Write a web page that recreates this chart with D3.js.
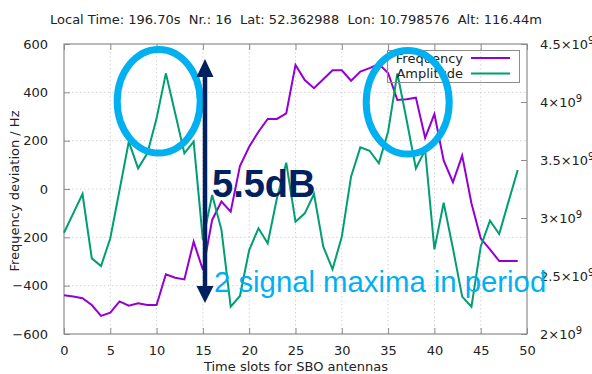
<!DOCTYPE html>
<html>
<head>
<meta charset="utf-8">
<script src="https://cdn.jsdelivr.net/npm/d3@7"></script>
<style>
  html, body { margin: 0; padding: 0; background: #fff; }
  svg { display: block; }
  text { font-family: "DejaVu Sans", sans-serif; fill: #222; }
</style>
</head>
<body>
<svg id="chart" width="592" height="374"></svg>
<script>
// Time slot index (0..49)
const slots = d3.range(0, 50);

// Frequency deviation per slot, Hz (left axis)
const frequency = [
  -440, -445, -452, -480, -525, -512, -465, -483, -473, -480,
  -480, -353, -367, -374, -218, -335, -128,  -52,  -94,   95,
   175,  237,  290,  290,  313,  513,  451,  417,  454,  491,
   491,  448,  486,  500,  517,  480,  368,  371,  378,  212,
   310,  118,   28,  138,  -59, -204, -250, -298, -298, -298
];

// Amplitude per slot, in units of 1e9 (right axis)
const amplitude = [
  2.873, 3.040, 3.207, 2.652, 2.586, 2.825, 3.241, 3.658, 3.428, 3.557,
  3.859, 4.247, 3.905, 3.558, 3.658, 2.810, 3.198, 2.900, 2.235, 2.328,
  2.724, 2.911, 2.782, 3.172, 3.477, 2.968, 3.040, 3.207, 2.753, 2.558,
  2.839, 3.356, 3.609, 3.580, 3.472, 3.744, 4.247, 3.845, 3.428, 3.586,
  2.730, 3.132, 2.739, 2.322, 2.235, 2.753, 2.977, 2.862, 3.141, 3.414
];

// Tick values
const xTicks = [0, 5, 10, 15, 20, 25, 30, 35, 40, 45, 50];
const leftTicks = [-600, -400, -200, 0, 200, 400, 600];
const rightTicks = [2, 2.5, 3, 3.5, 4, 4.5];

const titleText = "Local Time: 196.70s  Nr.: 16  Lat: 52.362988  Lon: 10.798576  Alt: 116.44m";
const seriesNames = ["Frequency", "Amplitude"];
const seriesColors = ["#9400d3", "#009e73"];

const svg = d3.select("#chart");
const plot = { left: 64, right: 527, top: 44, bottom: 334 };

const x = d3.scaleLinear().domain([0, 50]).range([plot.left, plot.right]);
const yL = d3.scaleLinear().domain([-600, 600]).range([plot.bottom, plot.top]);
const yR = d3.scaleLinear().domain([2, 4.5]).range([plot.bottom, plot.top]);

// Title
svg.append("text")
  .attr("x", 296).attr("y", 24)
  .attr("text-anchor", "middle")
  .style("font-size", "13px")
  .text(titleText.replace(/ /g, "\u00a0"));

// Grid (dotted) at major ticks
const grid = svg.append("g");
grid.selectAll("line.gx").data(xTicks.slice(1, -1)).join("line")
  .attr("x1", d => x(d)).attr("x2", d => x(d))
  .attr("y1", plot.top).attr("y2", plot.bottom)
  .attr("stroke", "#d4d4d4").attr("stroke-width", 1)
  .attr("stroke-dasharray", "1.5,2.5");
grid.selectAll("line.gy").data(leftTicks.slice(1, -1)).join("line")
  .attr("x1", plot.left).attr("x2", plot.right)
  .attr("y1", d => yL(d)).attr("y2", d => yL(d))
  .attr("stroke", "#d4d4d4").attr("stroke-width", 1)
  .attr("stroke-dasharray", "1.5,2.5");

// Axes with inward ticks
function styleAxis(g) {
  g.select(".domain").remove();
  g.selectAll(".tick line").attr("stroke", "#8c8c8c");
  g.selectAll(".tick text").style("font-size", "13px").attr("fill", "#222")
    .style("font-family", "DejaVu Sans, sans-serif");
}

svg.append("g")
  .attr("transform", `translate(0,${plot.bottom})`)
  .call(d3.axisBottom(x).tickValues(xTicks).tickSizeInner(-6).tickSizeOuter(0).tickPadding(12))
  .call(styleAxis);

svg.append("g")
  .attr("transform", `translate(0,${plot.top})`)
  .call(d3.axisTop(x).tickValues(xTicks).tickSizeInner(-6).tickSizeOuter(0).tickFormat(""))
  .call(styleAxis);

svg.append("g")
  .attr("transform", `translate(${plot.left},0)`)
  .call(d3.axisLeft(yL).tickValues(leftTicks).tickSizeInner(-6).tickSizeOuter(0).tickPadding(16))
  .call(styleAxis);

const rAxis = svg.append("g")
  .attr("transform", `translate(${plot.right},0)`)
  .call(d3.axisRight(yR).tickValues(rightTicks).tickSizeInner(-6).tickSizeOuter(0).tickPadding(13).tickFormat(""))
  .call(styleAxis);

// Right tick labels as mantissa x 10^9
rAxis.selectAll(".tick text").each(function(d) {
  const t = d3.select(this);
  t.text(null);
  t.append("tspan").text(d3.format("~g")(d) + "\u00d710");
  t.append("tspan").attr("dy", "-0.45em").style("font-size", "10px").text("9");
});

// Plot border
svg.append("rect")
  .attr("x", plot.left).attr("y", plot.top)
  .attr("width", plot.right - plot.left).attr("height", plot.bottom - plot.top)
  .attr("fill", "none").attr("stroke", "#8c8c8c").attr("stroke-width", 1.2);

// Axis labels
svg.append("text")
  .attr("transform", "translate(19,191) rotate(-90)")
  .attr("text-anchor", "middle")
  .style("font-size", "13px")
  .text("Frequency deviation / Hz");

svg.append("text")
  .attr("x", 296).attr("y", 371)
  .attr("text-anchor", "middle")
  .style("font-size", "13px")
  .text("Time slots for SBO antennas");

// Series
const lineF = d3.line().x((d, i) => x(slots[i])).y(d => yL(d));
const lineA = d3.line().x((d, i) => x(slots[i])).y(d => yR(d));

svg.append("path").datum(frequency)
  .attr("d", lineF).attr("fill", "none")
  .attr("stroke", seriesColors[0]).attr("stroke-width", 2).attr("stroke-linejoin", "miter");

svg.append("path").datum(amplitude)
  .attr("d", lineA).attr("fill", "none")
  .attr("stroke", seriesColors[1]).attr("stroke-width", 2).attr("stroke-linejoin", "miter");

// Legend
const lg = svg.append("g");
lg.append("rect").attr("x", 387.5).attr("y", 50.5).attr("width", 132).attr("height", 32)
  .attr("fill", "none").attr("stroke", "#8c8c8c").attr("stroke-width", 1);
seriesNames.forEach((name, i) => {
  const cy = 58 + i * 15.5;
  lg.append("text").attr("x", 463).attr("y", cy + 4.5)
    .attr("text-anchor", "end").style("font-size", "13px").text(name);
  lg.append("line").attr("x1", 471).attr("x2", 510).attr("y1", cy).attr("y2", cy)
    .attr("stroke", seriesColors[i]).attr("stroke-width", 2);
});

// Highlight ellipses around the two amplitude maxima
const hl = "#00b0f0";
[[158.7, 101.3], [407.7, 102.3]].forEach(([cx, cy]) => {
  svg.append("ellipse").attr("cx", cx).attr("cy", cy).attr("rx", 41.5).attr("ry", 51.8)
    .attr("fill", "none").attr("stroke", hl).attr("stroke-width", 7);
});

// Double-headed arrow marking the amplitude swing
const navy = "#002060";
const ax = 205;
svg.append("line").attr("x1", ax).attr("x2", ax).attr("y1", 74).attr("y2", 289)
  .attr("stroke", navy).attr("stroke-width", 4.5);
svg.append("path").attr("d", `M${ax},59 L${ax - 8.5},77 L${ax + 8.5},77 Z`).attr("fill", navy);
svg.append("path").attr("d", `M${ax},303 L${ax - 8.5},286 L${ax + 8.5},286 Z`).attr("fill", navy);

svg.append("text").attr("x", 212).attr("y", 197)
  .style("font-family", "Liberation Sans, Arial, sans-serif")
  .style("font-weight", "bold").style("font-size", "38px")
  .style("fill", navy)
  .text("5.5dB");

svg.append("text").attr("x", 214).attr("y", 292)
  .style("font-family", "Liberation Sans, Arial, sans-serif")
  .style("font-size", "29.3px")
  .style("fill", hl)
  .text("2 signal maxima in period");
</script>
</body>
</html>
